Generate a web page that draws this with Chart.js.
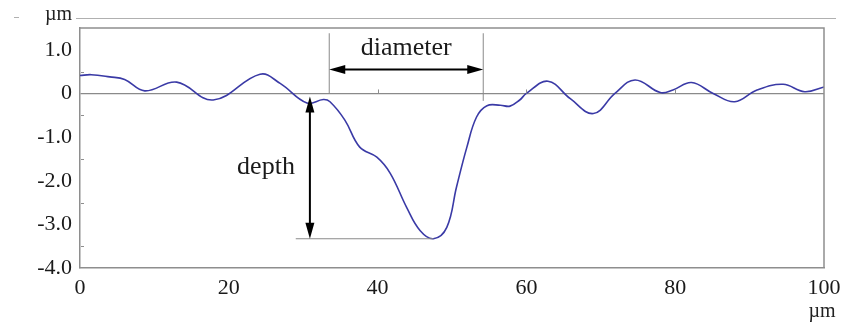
<!DOCTYPE html>
<html>
<head>
<meta charset="utf-8">
<script src="https://cdn.jsdelivr.net/npm/chart.js@4/dist/chart.umd.min.js"></script>
<style>
  html, body { margin: 0; padding: 0; background: #fff; }
  #wrap { width: 843px; height: 324px; }
</style>
</head>
<body>
<div id="wrap"><canvas id="c" width="843" height="324"></canvas></div>
<script>
// profile (um)
const xPos = [0, 1.5, 4, 6, 8.7, 13, 17.9, 24.2, 26.9, 30.5, 32.7, 33.6, 35.6, 37.6, 39.9, 41.7, 43.9, 45.7, 47.5, 49.3, 50.6, 52.0, 53.3, 54.7, 56.5, 57.8, 59.1, 60, 62.9, 65.9, 69, 71.9, 74.6, 78, 79.7, 82.2, 85.1, 88, 91, 94.5, 97.4, 100];
const height = [0.41, 0.43, 0.38, 0.32, 0.06, 0.26, -0.15, 0.44, 0.23, -0.22, -0.14, -0.19, -0.61, -1.23, -1.46, -1.83, -2.61, -3.14, -3.33, -3.07, -2.15, -1.23, -0.54, -0.28, -0.27, -0.29, -0.15, 0.0, 0.28, -0.12, -0.46, 0.0, 0.31, 0.02, 0.08, 0.25, 0.0, -0.19, 0.08, 0.21, 0.04, 0.15];

const xTicks = [0, 20, 40, 60, 80, 100];
const yTicks = [-4, -3, -2, -1, 0, 1];
const zeroTicks = [40, 60, 80];

// annotation markers
const diameterFrom = 33.5, diameterTo = 54.2;
const depthAt = 30.9, depthTop = -0.07, depthBottom = -3.33;

const FONT = '"Liberation Serif", "DejaVu Serif", serif';
const GRAY = '#8e8e8e';

function arrowHead(ctx, x, y, dir, vertical) {
  ctx.beginPath();
  if (vertical) {
    ctx.moveTo(x, y);
    ctx.lineTo(x - 4.5, y + dir * 16);
    ctx.lineTo(x + 4.5, y + dir * 16);
  } else {
    ctx.moveTo(x, y);
    ctx.lineTo(x + dir * 16, y - 4.5);
    ctx.lineTo(x + dir * 16, y + 4.5);
  }
  ctx.closePath();
  ctx.fill();
}

const extras = {
  id: 'extras',
  afterDraw(chart) {
    const { ctx, chartArea: a, scales: { x, y } } = chart;
    ctx.save();

    // frame top and right
    ctx.strokeStyle = GRAY;
    ctx.lineWidth = 1.5;
    ctx.beginPath();
    ctx.moveTo(a.left, a.top);
    ctx.lineTo(a.right, a.top);
    ctx.lineTo(a.right, a.bottom);
    ctx.stroke();

    // header rule with unit
    ctx.strokeStyle = '#b0b0b0';
    ctx.lineWidth = 1;
    ctx.beginPath();
    ctx.moveTo(76, 18.5);
    ctx.lineTo(836, 18.5);
    ctx.moveTo(14, 17.5);
    ctx.lineTo(19, 17.5);
    ctx.stroke();

    ctx.fillStyle = '#222';
    ctx.font = '20px ' + FONT;
    ctx.textBaseline = 'middle';
    ctx.textAlign = 'left';
    ctx.fillText('µm', 45, 15);
    ctx.textAlign = 'center';
    ctx.fillText('µm', 822, 312);

    // minor ticks on y axis
    ctx.strokeStyle = GRAY;
    ctx.lineWidth = 1;
    for (let v = -3.5; v <= 1; v += 1) {
      const py = Math.round(y.getPixelForValue(v)) + 0.5;
      ctx.beginPath();
      ctx.moveTo(a.left + 1, py);
      ctx.lineTo(a.left + 4, py);
      ctx.stroke();
    }
    // small ticks on zero line
    const y0 = y.getPixelForValue(0);
    zeroTicks.forEach(v => {
      const px = Math.round(x.getPixelForValue(v)) + 0.5;
      ctx.beginPath();
      ctx.moveTo(px, y0 - 4);
      ctx.lineTo(px, y0);
      ctx.stroke();
    });

    // diameter
    const dl = x.getPixelForValue(diameterFrom);
    const dr = x.getPixelForValue(diameterTo);
    const dTop = y.getPixelForValue(1.38);
    ctx.strokeStyle = '#8a8a8a';
    ctx.beginPath();
    ctx.moveTo(dl, dTop); ctx.lineTo(dl, y.getPixelForValue(0));
    ctx.moveTo(dr, dTop); ctx.lineTo(dr, y.getPixelForValue(-0.17));
    ctx.stroke();

    const ay = y.getPixelForValue(0.55);
    ctx.strokeStyle = '#000';
    ctx.fillStyle = '#000';
    ctx.lineWidth = 2;
    ctx.beginPath();
    ctx.moveTo(dl + 8, ay); ctx.lineTo(dr - 8, ay);
    ctx.stroke();
    arrowHead(ctx, dl, ay, 1, false);
    arrowHead(ctx, dr, ay, -1, false);

    ctx.fillStyle = '#1a1a1a';
    ctx.font = '26px ' + FONT;
    ctx.textAlign = 'center';
    ctx.fillText('diameter', (dl + dr) / 2, 48);

    // depth
    const dx = x.getPixelForValue(depthAt);
    const t = y.getPixelForValue(depthTop);
    const b = y.getPixelForValue(depthBottom);
    ctx.strokeStyle = '#8a8a8a';
    ctx.lineWidth = 1;
    ctx.beginPath();
    ctx.moveTo(x.getPixelForValue(29.0), b);
    ctx.lineTo(x.getPixelForValue(47.5), b);
    ctx.stroke();

    ctx.strokeStyle = '#000';
    ctx.fillStyle = '#000';
    ctx.lineWidth = 2;
    ctx.beginPath();
    ctx.moveTo(dx, t + 8); ctx.lineTo(dx, b - 8);
    ctx.stroke();
    arrowHead(ctx, dx, t, 1, true);
    arrowHead(ctx, dx, b, -1, true);
    ctx.fillStyle = '#1a1a1a';
    ctx.fillText('depth', 266, 167);

    ctx.restore();
  }
};

new Chart(document.getElementById('c'), {
  type: 'line',
  data: {
    datasets: [{
      data: xPos.map((v, i) => ({ x: v, y: height[i] })),
      borderColor: '#3a3aa6',
      borderWidth: 1.6,
      pointRadius: 0,
      tension: 0.4,
      fill: false
    }]
  },
  options: {
    responsive: false,
    animation: false,
    layout: { padding: { top: 28, right: 19, left: 0, bottom: 0 } },
    plugins: { legend: { display: false }, tooltip: { enabled: false } },
    scales: {
      x: {
        type: 'linear',
        min: 0,
        max: 100,
        afterBuildTicks: s => { s.ticks = xTicks.map(v => ({ value: v })); },
        afterFit: s => { s.height = 56; s.paddingLeft = 0; s.paddingRight = 0; },
        grid: { display: false, drawTicks: false },
        border: { display: true, color: GRAY, width: 1.5 },
        ticks: {
          color: '#1a1a1a',
          padding: 7,
          maxRotation: 0,
          font: { family: FONT, size: 22 }
        }
      },
      y: {
        min: -4,
        max: 1.5,
        afterBuildTicks: s => { s.ticks = yTicks.map(v => ({ value: v })); },
        afterFit: s => { s.width = 80; s.paddingTop = 0; s.paddingBottom = 0; },
        grid: {
          drawTicks: false,
          color: c => (c.tick && c.tick.value === 0 ? '#8a8a8a' : 'rgba(0,0,0,0)'),
          lineWidth: 1.2
        },
        border: { display: true, color: GRAY, width: 1.5 },
        ticks: {
          color: '#1a1a1a',
          padding: 8,
          font: { family: FONT, size: 22 },
          callback: v => (v === 0 ? '0' : v.toFixed(1))
        }
      }
    }
  },
  plugins: [extras]
});
</script>
</body>
</html>
